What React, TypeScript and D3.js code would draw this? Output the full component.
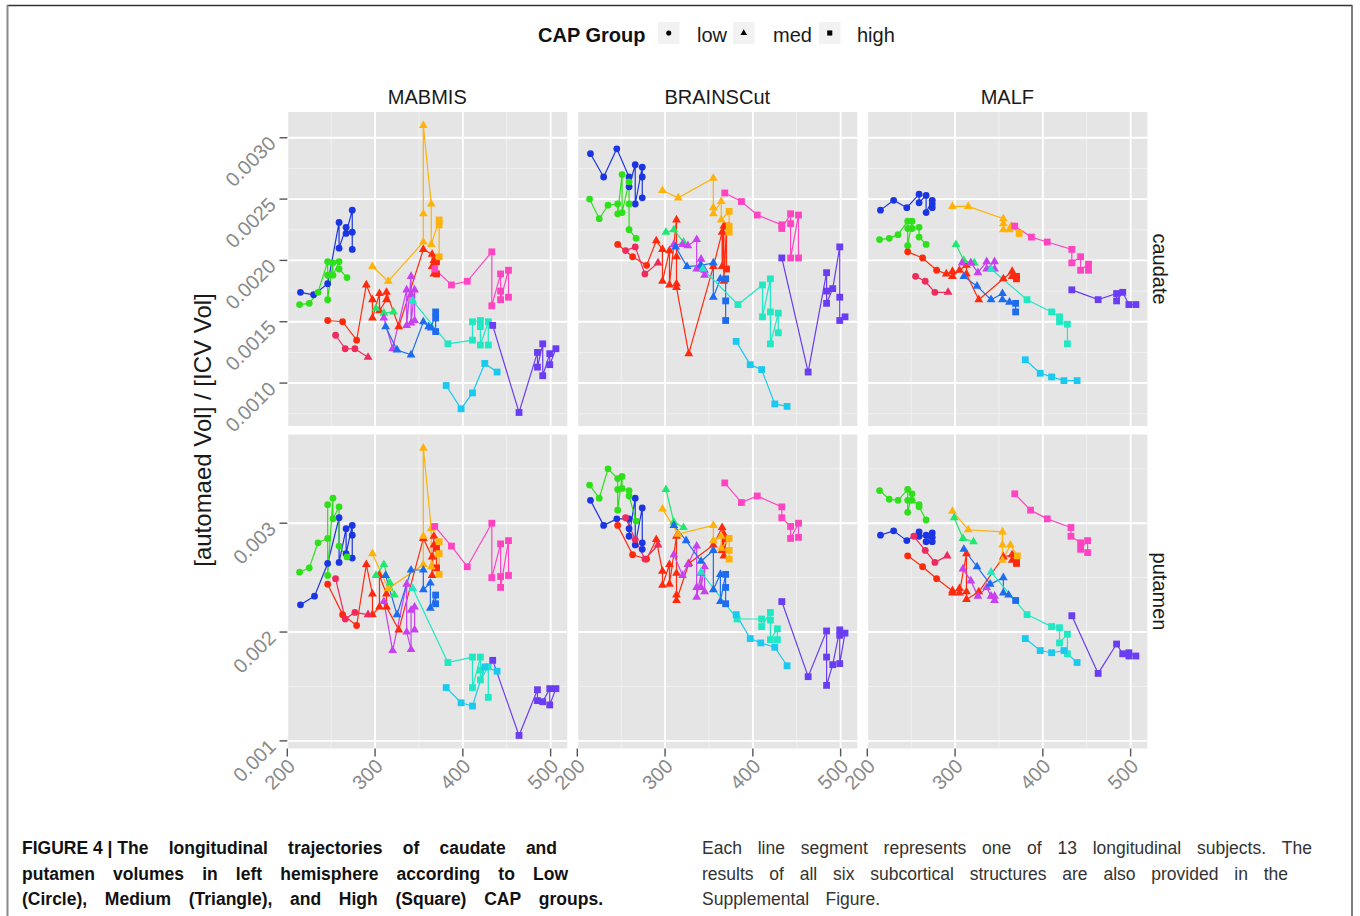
import React from 'react';
import * as d3 from 'd3';

// points are [age in months, volume / ICV (x 1e-3), CAP group index]
type Pt = [number, number, number];
type Series = [string, Pt[]];

const capGroups = ['low', 'med', 'high'];
const methods = ['MABMIS', 'BRAINSCut', 'MALF'];
const structures = ['caudate', 'putamen'];
const subjectIds = ['A', 'B', 'C', 'D', 'E', 'F', 'G', 'H', 'I', 'J', 'K', 'L'];
const subjectColors = ['#1b35e3', '#2de01a', '#ff2a0d', '#ef2a5c', '#ffb20a', '#ff44c2',
  '#1fe86e', '#c840ef', '#1d6cf0', '#20e8c3', '#1ac9ef', '#6a3cf3'];

const ageTicks = [200, 300, 400, 500];
const caudateTicks = [0.0010, 0.0015, 0.0020, 0.0025, 0.0030];
const putamenTicks = [0.001, 0.002, 0.003];

const caudateMABMIS: Series[] = [
  ['A', [[215,1.74,0],[230,1.72,0],[246,1.81,0],[259,2.31,0],[259,2.10,0],[267,2.27,0],[267,2.22,0],[274,2.41,0],[274,2.23,0],[274,2.09,0]]],
  ['B', [[214,1.64,0],[225,1.65,0],[235,1.74,0],[246,1.99,0],[246,1.88,0],[246,1.68,0],[252,1.98,0],[252,1.88,0],[259,1.99,0],[259,1.93,0],[268,1.86,0]]],
  ['C', [[246,1.51,0],[263,1.50,0],[279,1.35,0],[290,1.80,1],[297,1.68,1],[297,1.53,1],[305,1.73,1],[305,1.59,1],[313,1.68,1],[313,1.74,1],[327,1.46,1],[355,2.09,1],[365,2.05,1],[365,1.95,1],[367,1.89,1],[367,2.00,1],[370,1.99,2],[370,1.89,2]]],
  ['D', [[255,1.39,0],[266,1.28,0],[277,1.28,0],[292,1.21,1]]],
  ['E', [[297,1.95,1],[315,1.83,1],[355,2.15,1],[355,2.38,1],[355,3.10,1],[364,2.46,1],[364,2.13,1],[373,2.33,2],[373,2.29,2],[373,2.03,2]]],
  ['F', [[368,1.93,2],[387,1.80,2],[405,1.83,2],[433,2.07,2],[433,1.63,2],[443,1.89,2],[443,1.75,2],[443,1.68,2],[452,1.92,2],[452,1.70,2]]],
  ['G', [[301,1.61,1],[310,1.57,1],[321,1.58,1]]],
  ['H', [[310,1.53,1],[320,1.28,1],[336,1.76,1],[336,1.47,1],[341,1.87,1],[341,1.72,1],[341,1.49,1],[345,1.76,1],[345,1.51,1]]],
  ['I', [[312,1.46,1],[325,1.27,1],[341,1.23,1],[355,1.50,1],[361,1.46,1],[364,1.45,1],[369,1.58,2],[369,1.53,2],[369,1.42,2]]],
  ['J', [[343,1.67,1],[383,1.32,2],[411,1.35,2],[411,1.50,2],[420,1.51,2],[420,1.46,2],[420,1.31,2],[429,1.50,2],[429,1.31,2]]],
  ['K', [[381,0.98,2],[398,0.79,2],[411,0.92,2],[425,1.16,2],[439,1.09,2]]],
  ['L', [[434,1.47,2],[464,0.76,2],[485,1.25,2],[485,1.13,2],[491,1.32,2],[491,1.06,2],[499,1.24,2],[499,1.15,2],[506,1.28,2]]],
];

const caudateBRAINSCut: Series[] = [
  ['A', [[215,2.87,0],[230,2.68,0],[245,2.91,0],[259,2.68,0],[259,2.60,0],[266,2.78,0],[266,2.46,0],[274,2.76,0],[274,2.68,0],[274,2.51,0]]],
  ['B', [[214,2.50,0],[225,2.34,0],[235,2.45,0],[246,2.46,0],[246,2.38,0],[251,2.70,0],[251,2.39,0],[259,2.64,0],[259,2.46,0],[259,2.25,0],[267,2.18,0]]],
  ['C', [[246,2.13,0],[263,2.03,0],[279,1.96,0],[290,2.16,1],[297,2.09,1],[297,1.83,1],[305,2.08,1],[305,1.80,1],[313,2.33,1],[313,2.03,1],[313,1.81,1],[313,1.78,1],[327,1.24,1],[355,1.95,1],[365,2.23,1],[365,1.95,1],[367,2.28,1],[367,1.83,1],[370,2.28,2],[370,1.93,2]]],
  ['D', [[255,2.08,0],[266,2.11,0],[277,1.89,0],[292,1.98,1]]],
  ['E', [[297,2.57,1],[315,2.51,1],[355,2.67,1],[355,2.43,1],[355,2.38,1],[364,2.48,1],[364,2.33,1],[373,2.40,2],[373,2.28,2],[373,2.23,2]]],
  ['F', [[368,2.55,2],[387,2.48,2],[405,2.37,2],[433,2.29,2],[433,2.26,2],[443,2.38,2],[443,2.30,2],[443,2.02,2],[452,2.37,2],[452,2.02,2]]],
  ['G', [[301,2.23,1],[310,2.25,1],[321,2.15,1]]],
  ['H', [[310,2.13,1],[320,2.13,1],[326,2.12,1],[336,2.17,1],[336,1.93,1],[341,2.01,1],[341,1.93,1],[345,1.88,1],[345,1.92,1]]],
  ['I', [[312,2.11,1],[325,1.95,1],[341,1.96,1],[355,1.98,1],[355,1.70,1],[363,1.85,1],[369,1.85,2],[369,1.67,2],[369,1.51,2]]],
  ['J', [[343,1.93,1],[383,1.64,2],[411,1.80,2],[411,1.54,2],[420,1.85,2],[420,1.58,2],[420,1.32,2],[429,1.57,2],[429,1.41,2]]],
  ['K', [[381,1.34,2],[397,1.15,2],[410,1.11,2],[425,0.83,2],[439,0.81,2]]],
  ['L', [[433,2.02,2],[463,1.09,2],[484,1.90,2],[484,1.75,2],[484,1.65,2],[491,1.77,2],[499,2.11,2],[499,1.70,2],[499,1.51,2],[505,1.54,2]]],
];

const caudateMALF: Series[] = [
  ['A', [[215,2.41,0],[230,2.49,0],[245,2.43,0],[259,2.54,0],[259,2.47,0],[267,2.53,0],[267,2.39,0],[274,2.49,0],[274,2.43,0],[274,2.46,0]]],
  ['B', [[214,2.17,0],[225,2.18,0],[235,2.21,0],[246,2.32,0],[246,2.26,0],[246,2.12,0],[251,2.32,0],[251,2.26,0],[259,2.27,0],[259,2.19,0],[267,2.13,0]]],
  ['C', [[246,2.07,0],[263,2.02,0],[279,1.92,0],[290,1.89,1],[297,1.91,1],[297,1.87,1],[305,1.92,1],[313,1.96,1],[313,1.89,1],[327,1.68,1],[355,1.85,1],[365,1.91,1],[365,1.87,1],[370,1.87,2],[370,1.85,2]]],
  ['D', [[255,1.87,0],[266,1.83,0],[277,1.74,0],[292,1.74,1]]],
  ['E', [[297,2.44,1],[315,2.44,1],[355,2.34,1],[355,2.30,1],[355,2.25,1],[362,2.25,1],[364,2.28,1],[373,2.22,2]]],
  ['F', [[368,2.28,2],[387,2.19,2],[405,2.15,2],[433,2.09,2],[433,1.98,2],[443,2.03,2],[443,1.92,2],[452,1.97,2],[452,1.92,2]]],
  ['G', [[301,2.13,1],[310,2.00,1],[318,1.98,1],[322,1.98,1]]],
  ['H', [[308,1.98,1],[318,1.98,1],[326,1.90,1],[336,1.99,1],[336,1.93,1],[345,1.99,1],[345,1.93,1]]],
  ['I', [[310,1.87,1],[325,1.79,1],[341,1.68,1],[354,1.73,1],[354,1.68,1],[362,1.66,1],[369,1.65,2],[369,1.58,2]]],
  ['J', [[341,1.93,1],[382,1.68,2],[410,1.58,2],[419,1.54,2],[419,1.50,2],[428,1.48,2],[428,1.32,2]]],
  ['K', [[380,1.19,2],[397,1.08,2],[410,1.05,2],[424,1.02,2],[439,1.02,2]]],
  ['L', [[433,1.76,2],[463,1.68,2],[484,1.73,2],[484,1.67,2],[491,1.74,2],[498,1.64,2],[506,1.64,2]]],
];

const putamenMABMIS: Series[] = [
  ['A', [[215,2.25,0],[231,2.33,0],[246,2.63,0],[259,3.05,0],[259,2.64,0],[267,2.95,0],[267,2.72,0],[274,2.98,0],[274,2.89,0],[274,2.68,0]]],
  ['B', [[214,2.55,0],[225,2.59,0],[235,2.82,0],[246,2.86,0],[246,3.17,0],[246,2.52,0],[252,3.23,0],[252,3.04,0],[259,3.15,0],[259,2.79,0],[268,2.69,0]]],
  ['C', [[246,2.44,0],[263,2.16,0],[279,2.06,0],[290,2.62,1],[297,2.35,1],[297,2.16,1],[305,2.23,1],[305,2.52,1],[313,2.35,1],[313,2.23,1],[327,2.02,1],[355,2.86,1],[365,2.69,1],[365,2.52,1],[367,2.88,1],[367,2.80,1],[370,2.77,2],[370,2.59,2]]],
  ['D', [[255,2.49,0],[266,2.12,0],[277,2.18,0],[292,2.16,1]]],
  ['E', [[297,2.72,1],[315,2.40,1],[355,2.62,1],[355,2.88,1],[355,3.69,1],[364,2.95,1],[364,2.60,1],[373,2.83,2],[373,2.72,2],[373,2.53,2]]],
  ['F', [[368,2.97,2],[387,2.79,2],[405,2.60,2],[433,3.00,2],[433,2.50,2],[443,2.81,2],[443,2.51,2],[443,2.41,2],[452,2.84,2],[452,2.52,2]]],
  ['G', [[301,2.52,1],[310,2.62,1],[317,2.45,1],[322,2.34,1]]],
  ['H', [[310,2.28,1],[320,1.83,1],[336,2.44,1],[336,2.00,1],[341,1.84,1],[341,2.20,1],[345,2.23,1],[345,2.02,1]]],
  ['I', [[312,2.52,1],[325,2.16,1],[341,2.57,1],[355,2.57,1],[355,2.39,1],[363,2.45,1],[363,2.22,1],[369,2.34,2],[369,2.26,2]]],
  ['J', [[343,2.40,1],[383,1.72,2],[411,1.77,2],[411,1.49,2],[420,1.77,2],[420,1.65,2],[420,1.56,2],[429,1.68,2],[429,1.40,2]]],
  ['K', [[381,1.49,2],[398,1.35,2],[411,1.32,2],[425,1.68,2],[439,1.64,2]]],
  ['L', [[434,1.74,2],[464,1.05,2],[485,1.47,2],[485,1.37,2],[491,1.36,2],[499,1.48,2],[499,1.33,2],[506,1.48,2]]],
];

const putamenBRAINSCut: Series[] = [
  ['A', [[215,3.21,0],[230,2.98,0],[245,3.04,0],[259,3.04,0],[259,2.95,0],[259,2.88,0],[266,3.23,0],[266,2.80,0],[274,3.14,0],[274,2.82,0],[274,2.76,0]]],
  ['B', [[214,3.35,0],[225,3.23,0],[235,3.50,0],[246,3.41,0],[246,3.31,0],[246,3.12,0],[251,3.43,0],[251,3.32,0],[259,3.30,0],[259,3.25,0],[267,3.02,0]]],
  ['C', [[246,2.98,0],[263,2.71,0],[279,2.67,0],[290,2.85,1],[297,2.56,1],[297,2.43,1],[305,2.62,1],[305,2.44,1],[313,2.88,1],[313,2.54,1],[313,2.34,1],[313,2.29,1],[327,2.63,1],[355,2.80,1],[365,2.96,1],[365,2.75,1],[367,2.90,1],[367,2.70,1],[370,2.86,2]]],
  ['D', [[255,3.05,0],[266,2.85,0],[277,2.67,0],[292,2.80,1]]],
  ['E', [[297,3.13,1],[315,2.90,1],[355,2.98,1],[355,2.84,1],[364,2.88,1],[364,2.77,1],[373,2.86,2],[373,2.75,2],[373,2.67,2]]],
  ['F', [[368,3.37,2],[387,3.19,2],[405,3.25,2],[433,3.15,2],[433,3.05,2],[443,2.97,2],[443,2.86,2],[452,3.00,2],[452,2.87,2]]],
  ['G', [[301,3.31,1],[310,3.01,1],[321,2.96,1]]],
  ['H', [[310,2.71,1],[320,2.52,1],[326,2.62,1],[336,2.79,1],[336,2.41,1],[336,2.32,1],[341,2.54,1],[341,2.41,1],[345,2.60,1],[345,2.37,1]]],
  ['I', [[310,2.98,1],[324,2.84,1],[341,2.65,1],[355,2.75,1],[355,2.39,1],[363,2.53,1],[363,2.28,1],[369,2.53,2],[369,2.41,2],[369,2.26,2]]],
  ['J', [[341,2.55,1],[382,2.12,2],[410,2.12,2],[410,2.05,2],[420,2.18,2],[420,2.11,2],[420,1.93,2],[428,2.03,2],[428,1.93,2]]],
  ['K', [[381,2.16,2],[397,1.94,2],[409,1.90,2],[425,1.86,2],[439,1.69,2]]],
  ['L', [[433,2.28,2],[463,1.59,2],[484,2.01,2],[484,1.77,2],[484,1.51,2],[491,1.70,2],[499,2.02,2],[499,1.97,2],[499,1.71,2],[505,1.99,2]]],
];

const putamenMALF: Series[] = [
  ['A', [[215,2.89,0],[230,2.93,0],[245,2.84,0],[259,2.92,0],[259,2.88,0],[267,2.89,0],[267,2.83,0],[274,2.91,0],[274,2.87,0],[274,2.83,0]]],
  ['B', [[214,3.30,0],[225,3.22,0],[235,3.21,0],[246,3.31,0],[246,3.21,0],[246,3.10,0],[251,3.27,0],[251,3.21,0],[259,3.17,0],[259,3.15,0],[267,3.03,0]]],
  ['C', [[246,2.70,0],[263,2.60,0],[279,2.49,0],[297,2.38,1],[297,2.36,1],[305,2.40,1],[305,2.36,1],[313,2.72,1],[313,2.37,1],[313,2.30,1],[327,2.37,1],[355,2.69,1],[365,2.71,1],[365,2.66,1],[370,2.65,2],[370,2.63,2]]],
  ['D', [[253,2.88,0],[266,2.75,0],[277,2.64,0],[291,2.70,1]]],
  ['E', [[297,3.11,1],[315,2.94,1],[354,2.92,1],[354,2.80,1],[354,2.66,1],[363,2.80,1],[371,2.70,2]]],
  ['F', [[368,3.27,2],[386,3.12,2],[405,3.04,2],[432,2.96,2],[432,2.88,2],[443,2.82,2],[443,2.76,2],[451,2.84,2],[451,2.73,2]]],
  ['G', [[299,3.05,1],[309,2.86,1],[321,2.83,1]]],
  ['H', [[309,2.58,1],[318,2.47,1],[326,2.33,1],[336,2.41,1],[341,2.33,1],[345,2.29,1],[345,2.33,1]]],
  ['I', [[310,2.76,1],[325,2.60,1],[340,2.44,1],[355,2.50,1],[355,2.36,1],[361,2.34,1],[369,2.29,2]]],
  ['J', [[341,2.55,1],[382,2.16,2],[410,2.05,2],[419,2.04,2],[419,1.90,2],[428,1.98,2],[428,1.80,2]]],
  ['K', [[380,1.94,2],[397,1.83,2],[410,1.81,2],[424,1.83,2],[439,1.72,2]]],
  ['L', [[433,2.15,2],[463,1.62,2],[484,1.89,2],[491,1.80,2],[498,1.78,2],[498,1.81,2],[506,1.78,2]]],
];

const captionLeft = [
  'FIGURE\u00a04\u00a0|\u00a0The longitudinal trajectories of caudate and',
  'putamen volumes in left hemisphere according to Low',
  '(Circle), Medium (Triangle), and High (Square) CAP groups.',
];
const captionRight = [
  'Each line segment represents one of 13 longitudinal subjects. The',
  'results of all six subcortical structures are also provided in the',
  'Supplemental Figure.',
];

const panelData = [
  [caudateMABMIS, caudateBRAINSCut, caudateMALF],
  [putamenMABMIS, putamenBRAINSCut, putamenMALF],
];

// layout
const W = 1360, H = 916;
const FONT = '"Liberation Sans", Arial, Helvetica, sans-serif';
const panelX0 = 287.3, panelW = 280, panelGapX = 10;
const rowTops = [112, 434.5], panelH = 314;

const x = d3.scaleLinear().domain([200, 519]).range([0, panelW]);
const yScales = [
  d3.scaleLinear().domain([0.00065, 0.00321]).range([panelH, 0]),
  d3.scaleLinear().domain([0.00093, 0.003815]).range([panelH, 0]),
];
const yTicks = [caudateTicks, putamenTicks];

function minorOf(ticks: number[], domain: number[]) {
  const step = ticks[1] - ticks[0];
  const out: number[] = [];
  for (let i = -1; i < ticks.length; i++) {
    const v = ticks[0] + step * (i + 0.5);
    if (v > domain[0] && v < domain[1]) out.push(v);
  }
  return out;
}

const colorOf = d3.scaleOrdinal<string, string>().domain(subjectIds).range(subjectColors);

let measureCtx: CanvasRenderingContext2D | null = null;
function textWidth(t: string, font: string) {
  if (!measureCtx) measureCtx = document.createElement('canvas').getContext('2d');
  measureCtx!.font = font;
  return measureCtx!.measureText(t).width;
}

function Justified({ text, x0, y0, width, size, weight, fill }: any) {
  const words = text.split(' ');
  const font = `${weight} ${size}px "Liberation Sans"`;
  const ws = words.map((w: string) => textWidth(w, font));
  const gap = words.length > 1 ? (width - d3.sum(ws)) / (words.length - 1) : 0;
  let cx = x0;
  return (
    <g>
      {words.map((w: string, i: number) => {
        const px = cx;
        cx += ws[i] + gap;
        return (
          <text key={i} x={px} y={y0} fontFamily={FONT} fontSize={size} fontWeight={weight} fill={fill}
            style={{ whiteSpace: 'pre' }}>{w}</text>
        );
      })}
    </g>
  );
}

function Mark({ g, cx, cy, color, k = 1 }: { g: number; cx: number; cy: number; color: string; k?: number }) {
  if (g === 0) return <circle cx={cx} cy={cy} r={3.4 * k} fill={color} />;
  if (g === 1) {
    const s = 8.8 * k, h = s * 0.866;
    return <path d={`M${cx},${cy - (2 * h) / 3}L${cx + s / 2},${cy + h / 3}L${cx - s / 2},${cy + h / 3}Z`} fill={color} />;
  }
  const s = 6.8 * k;
  return <rect x={cx - s / 2} y={cy - s / 2} width={s} height={s} fill={color} />;
}

function Panel({ row, col }: { row: number; col: number }) {
  const y = yScales[row];
  const series = panelData[row][col];
  const majY = yTicks[row];
  const minY = minorOf(majY, y.domain());
  const minX = minorOf(ageTicks, x.domain());
  const line = d3.line<Pt>().x(d => x(d[0])).y(d => y(d[1] * 1e-3));
  const tx = panelX0 + col * (panelW + panelGapX);
  const ty = rowTops[row];
  return (
    <g transform={`translate(${tx},${ty})`}>
      <rect width={panelW} height={panelH} fill="#e5e5e5" />
      {minY.map(v => <line key={'my' + v} x1={0} x2={panelW} y1={y(v)} y2={y(v)} stroke="#f2f2f2" strokeWidth={0.9} />)}
      {minX.map(v => <line key={'mx' + v} y1={0} y2={panelH} x1={x(v)} x2={x(v)} stroke="#f2f2f2" strokeWidth={0.9} />)}
      {majY.map(v => <line key={'Y' + v} x1={0} x2={panelW} y1={y(v)} y2={y(v)} stroke="#ffffff" strokeWidth={1.9} />)}
      {ageTicks.map(v => <line key={'X' + v} y1={0} y2={panelH} x1={x(v)} x2={x(v)} stroke="#ffffff" strokeWidth={1.9} />)}
      {series.map(([id, pts]) => {
        const sorted = pts.slice().sort((a, b) => a[0] - b[0]);
        return <path key={'l' + id} d={line(sorted) || ''} fill="none" stroke={colorOf(id)} strokeWidth={1.2} />;
      })}
      {series.map(([id, pts]) =>
        pts.map((p, i) => (
          <Mark key={id + i} g={p[2]} cx={x(p[0])} cy={y(p[1] * 1e-3)} color={colorOf(id)} />
        ))
      )}
    </g>
  );
}

export default function App() {
  const legendKeys = [658, 733, 819];
  const legendLabels = [697, 773, 857];
  return (
    <svg width={W} height={H} style={{ position: 'absolute', left: 0, top: 0, background: '#fff' }}>
      <rect width={W} height={H} fill="#fff" />
      <line x1={7} x2={1352} y1={5.5} y2={5.5} stroke="#333" strokeWidth={1.6} />
      <line x1={7.5} x2={7.5} y1={5} y2={H} stroke="#8a8a8a" strokeWidth={2} />
      <line x1={1352} x2={1352} y1={5} y2={H} stroke="#555" strokeWidth={1.5} />

      {/* legend */}
      <text x={538} y={42} fontFamily={FONT} fontSize={20} fontWeight="bold" fill="#111">CAP Group</text>
      {capGroups.map((gName, i) => (
        <g key={gName}>
          <rect x={legendKeys[i]} y={22} width={21.5} height={22} fill="#f2f2f2" />
          <Mark g={i} cx={legendKeys[i] + 10.75} cy={33} color="#000" k={0.75} />
          <text x={legendLabels[i]} y={42} fontFamily={FONT} fontSize={20} fill="#1a1a1a">{gName}</text>
        </g>
      ))}

      {/* strips */}
      {methods.map((m, c) => (
        <text key={m} x={panelX0 + c * (panelW + panelGapX) + panelW / 2} y={104} textAnchor="middle"
          fontFamily={FONT} fontSize={20} fill="#1a1a1a">{m}</text>
      ))}
      {structures.map((s, r) => (
        <text key={s} transform={`translate(1160,${rowTops[r] + panelH / 2}) rotate(90)`} textAnchor="middle"
          dy="0.35em" fontFamily={FONT} fontSize={20} fill="#1a1a1a">{s}</text>
      ))}

      {[0, 1].map(r => [0, 1, 2].map(c => <Panel key={r + '-' + c} row={r} col={c} />))}

      {/* y axes */}
      {[0, 1].map(r => yTicks[r].map(v => {
        const yy = rowTops[r] + yScales[r](v);
        return (
          <g key={'yt' + r + v}>
            <line x1={279.5} x2={287.3} y1={yy} y2={yy} stroke="#555" strokeWidth={1.4} />
            <text transform={`translate(277,${yy + 7}) rotate(-45)`} textAnchor="end" fontFamily={FONT}
              fontSize={20} fill="#8a8a8a">{r === 0 ? v.toFixed(4) : v.toFixed(3)}</text>
          </g>
        );
      }))}

      {/* x axes */}
      {[0, 1, 2].map(c => ageTicks.map(v => {
        const xx = panelX0 + c * (panelW + panelGapX) + x(v);
        const yb = rowTops[1] + panelH;
        return (
          <g key={'xt' + c + v}>
            <line x1={xx} x2={xx} y1={yb} y2={yb + 8} stroke="#555" strokeWidth={1.4} />
            <text transform={`translate(${xx + 9},${yb + 19}) rotate(-45)`} textAnchor="end" fontFamily={FONT}
              fontSize={20} fill="#8a8a8a">{v}</text>
          </g>
        );
      }))}

      <text transform="translate(203,430) rotate(-90)" textAnchor="middle" dy="0.35em" fontFamily={FONT}
        fontSize={24} fill="#1a1a1a">[automaed Vol] / [ICV Vol]</text>

      {/* caption */}
      {captionLeft.map((t, i) => (
        <Justified key={'cl' + i} text={t} x0={22} y0={854 + i * 25.5} width={[535, 546, 581][i]}
          size={17.5} weight="bold" fill="#111" />
      ))}
      {captionRight.map((t, i) => (
        <Justified key={'cr' + i} text={t} x0={702} y0={854 + i * 25.5} width={[610, 586, 178][i]}
          size={17.5} weight="normal" fill="#333" />
      ))}
    </svg>
  );
}
